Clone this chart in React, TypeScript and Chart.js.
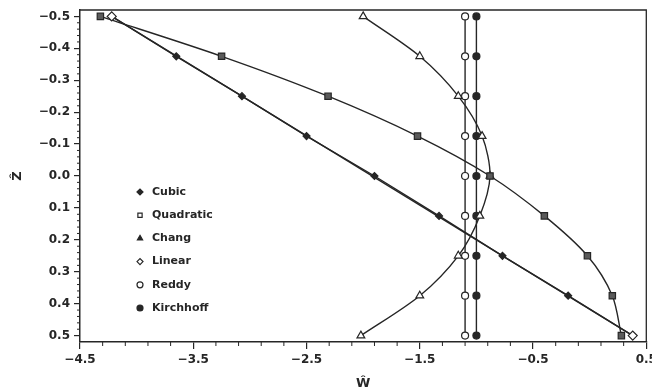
import { useEffect, useRef } from "react";
import { Chart, registerables } from "chart.js";
import { drawPoint } from "chart.js/helpers";

Chart.register(...registerables);

// ---- data ----
const zLevels = [-0.5, -0.375, -0.25, -0.125, 0, 0.125, 0.25, 0.375, 0.5];
const cubicW = [-4.22, -3.65, -3.07, -2.5, -1.9, -1.33, -0.77, -0.19, 0.38];
const quadraticW = [-4.32, -3.25, -2.31, -1.52, -0.88, -0.4, -0.02, 0.2, 0.28];
const changW = [-2.0, -1.5, -1.16, -0.95, -0.88, -0.97, -1.16, -1.5, -2.02];
const linearZ = [-0.5, 0.5];
const linearW = [-4.22, 0.38];
const reddyW = [-1.1, -1.1, -1.1, -1.1, -1.1, -1.1, -1.1, -1.1, -1.1];
const kirchhoffW = [-1.0, -1.0, -1.0, -1.0, -1.0, -1.0, -1.0, -1.0, -1.0];

const seriesNames = ["Cubic", "Quadratic", "Chang", "Linear", "Reddy", "Kirchhoff"];
const xMajorTicks = [-4.5, -3.5, -2.5, -1.5, -0.5, 0.5];
const yMajorTicks = [-0.5, -0.4, -0.3, -0.2, -0.1, 0.0, 0.1, 0.2, 0.3, 0.4, 0.5];
const xTitle = "Ŵ";
const yTitle = "Ẑ";

const INK = "#262626";
const FONT = "DejaVu Sans";

const fmt = (v: number) => (v < -1e-9 ? "\u2212" : "") + Math.abs(v).toFixed(1);

const pairs = (ws: number[], zs: number[]) => ws.map((w, i) => ({ x: w, y: zs[i] }));

const legendFill = ["#262626", "#ffffff", "#262626", "#ffffff", "#ffffff", "#262626"];

const frameAndTicks = {
  id: "frameAndTicks",
  afterDraw(chart: any) {
    const { ctx, chartArea } = chart;
    const { left, right, top, bottom } = chartArea;
    const xs = chart.scales.x;
    const ys = chart.scales.y;
    ctx.save();
    ctx.strokeStyle = INK;
    ctx.lineWidth = 1.3;
    ctx.beginPath();
    ctx.moveTo(left, top);
    ctx.lineTo(right, top);
    ctx.lineTo(right, bottom);
    ctx.stroke();
    // minor ticks
    ctx.lineWidth = 1;
    ctx.beginPath();
    const x0 = xMajorTicks[0];
    const xN = xMajorTicks[xMajorTicks.length - 1];
    const nx = Math.round((xN - x0) / 0.2);
    for (let i = 0; i <= nx; i++) {
      if (i % 5 === 0) continue;
      const px = xs.getPixelForValue(x0 + i * 0.2);
      ctx.moveTo(px, bottom);
      ctx.lineTo(px, bottom + 4);
    }
    const y0 = yMajorTicks[0];
    const yN = yMajorTicks[yMajorTicks.length - 1];
    const ny = Math.round((yN - y0) / 0.02);
    for (let i = 0; i <= ny; i++) {
      if (i % 5 === 0) continue;
      const py = ys.getPixelForValue(y0 + i * 0.02);
      ctx.moveTo(left - 3, py);
      ctx.lineTo(left, py);
    }
    ctx.stroke();
    ctx.restore();
  },
};

const insideLegend = {
  id: "insideLegend",
  afterDraw(chart: any) {
    const { ctx, chartArea } = chart;
    const bx = chartArea.left + 60;
    const by = chartArea.top + 182;
    const dy = 23.2;
    ctx.save();
    ctx.font = `bold 11px "${FONT}"`;
    ctx.textBaseline = "middle";
    ctx.textAlign = "left";
    chart.data.datasets.forEach((ds: any, i: number) => {
      const y = by + i * dy;
      ctx.fillStyle = legendFill[i];
      ctx.strokeStyle = INK;
      ctx.lineWidth = 1.2;
      drawPoint(ctx, { pointStyle: ds.pointStyle, rotation: 0, radius: 3, borderWidth: 1.2 } as any, bx, y);
      ctx.fillStyle = INK;
      ctx.fillText(ds.label, bx + 12, y);
    });
    ctx.restore();
  },
};

function makeSet(label: string, data: any[], style: string, fill: string, radius: number, tension: number, order = 0) {
  return {
    label,
    data,
    showLine: true,
    order,
    borderColor: INK,
    borderWidth: 1.4,
    tension,
    pointStyle: style,
    pointRadius: radius,
    pointBackgroundColor: fill,
    pointBorderColor: INK,
    pointBorderWidth: 1.2,
    fill: false,
  };
}

export default function App() {
  const ref = useRef<HTMLCanvasElement>(null);

  useEffect(() => {
    if (!ref.current) return;
    Chart.defaults.font.family = FONT;
    Chart.defaults.color = INK;
    const chart = new Chart(ref.current, {
      type: "scatter",
      data: {
        datasets: [
          makeSet(seriesNames[0], pairs(cubicW, zLevels), "rectRot", "#262626", 3.5, 0),
          makeSet(seriesNames[1], pairs(quadraticW, zLevels), "rect", "#5a5a5a", 4.5, 0.3),
          makeSet(seriesNames[2], pairs(changW, zLevels), "triangle", "#ffffff", 4.5, 0.3),
          makeSet(seriesNames[3], pairs(linearW, linearZ), "rectRot", "#ffffff", 4.5, 0, -1),
          makeSet(seriesNames[4], pairs(reddyW, zLevels), "circle", "#ffffff", 3.5, 0),
          makeSet(seriesNames[5], pairs(kirchhoffW, zLevels), "circle", "#262626", 3.5, 0),
        ] as any,
      },
      options: {
        animation: false,
        responsive: false,
        devicePixelRatio: 1,
        layout: { padding: { top: 10, right: 3, bottom: 0, left: 0 } },
        plugins: { legend: { display: false }, tooltip: { enabled: false } },
        scales: {
          x: {
            type: "linear",
            min: -4.5,
            max: 0.5,
            afterBuildTicks: (s: any) => {
              s.ticks = xMajorTicks.map((v) => ({ value: v }));
            },
            afterFit: (s: any) => {
              s.height = 50;
              s.paddingLeft = 0;
              s.paddingRight = 0;
            },
            ticks: {
              callback: (v: any) => fmt(Number(v)),
              font: { family: FONT, size: 12, weight: "bold" },
              color: INK,
              padding: 4,
              maxRotation: 0,
              autoSkip: false,
            },
            grid: { display: true, drawOnChartArea: false, drawTicks: true, tickLength: 7, color: INK, lineWidth: 1.2 },
            border: { display: true, color: INK, width: 1.5 },
            title: {
              display: true,
              text: xTitle,
              font: { family: FONT, size: 13, weight: "bold" },
              color: INK,
              padding: { top: 0, bottom: 1 },
            },
          },
          y: {
            type: "linear",
            reverse: true,
            min: -0.52,
            max: 0.52,
            afterBuildTicks: (s: any) => {
              s.ticks = yMajorTicks.map((v) => ({ value: v }));
            },
            afterFit: (s: any) => {
              s.width = 80;
              s.paddingTop = 0;
              s.paddingBottom = 0;
            },
            ticks: {
              callback: (v: any) => fmt(Number(v)),
              font: { family: FONT, size: 12, weight: "bold" },
              color: INK,
              padding: 4,
              autoSkip: false,
            },
            grid: { display: true, drawOnChartArea: false, drawTicks: true, tickLength: 6, color: INK, lineWidth: 1.2 },
            border: { display: true, color: INK, width: 1.5 },
            title: {
              display: true,
              text: yTitle,
              font: { family: FONT, size: 13, weight: "bold" },
              color: INK,
              padding: { top: 10, bottom: 0 },
            },
          },
        },
      },
      plugins: [frameAndTicks, insideLegend],
    });
    return () => chart.destroy();
  }, []);

  return (
    <div style={{ position: "fixed", left: 0, top: 0, width: 652, height: 392, background: "#fff" }}>
      <canvas ref={ref} width={652} height={392} style={{ display: "block" }} />
    </div>
  );
}
